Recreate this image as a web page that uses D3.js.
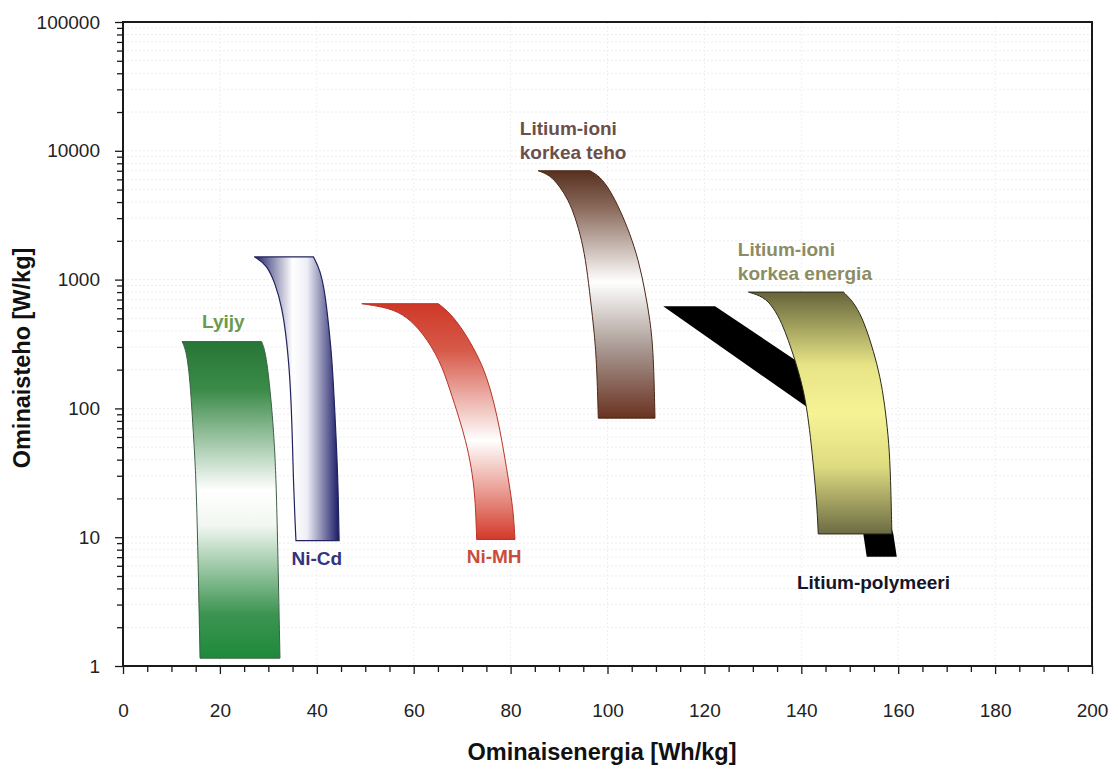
<!DOCTYPE html>
<html>
<head>
<meta charset="utf-8">
<script src="https://cdn.jsdelivr.net/npm/d3@7"></script>
<style>
  html, body { margin: 0; padding: 0; background: #fff; }
  svg { display: block; font-family: "Liberation Sans", Arial, sans-serif; }
</style>
</head>
<body>
<svg id="chart" width="1118" height="771"></svg>
<script>
// Ragone chart: specific energy (Wh/kg) vs specific power (W/kg, log scale)

// Axis ticks
const xMajorTicks = [0, 20, 40, 60, 80, 100, 120, 140, 160, 180, 200];
const yMajorTicks = [1, 10, 100, 1000, 10000, 100000];

// Band outlines as [energy Wh/kg, power W/kg], each edge listed from top to bottom
const lyijyLeft  = [[12.2, 330], [13.0, 284], [13.7, 188], [14.2, 102], [14.6, 57], [15.2, 24.5], [15.9, 1.15]];
const lyijyRight = [[28.6, 330], [29.3, 284], [30.0, 188], [30.7, 102], [31.2, 57], [31.7, 24.5], [32.4, 1.15]];

const niCdLeft  = [[27.2, 1500], [29.7, 1300], [31.4, 936], [32.8, 616], [33.8, 340], [34.5, 166], [34.9, 72], [35.2, 25], [35.5, 13.6], [35.7, 9.4]];
const niCdRight = [[39.3, 1500], [40.7, 1188], [41.7, 783], [42.4, 458], [43.1, 252], [43.6, 116], [44.0, 57], [44.4, 25], [44.6, 9.4]];

const niMhLeft  = [[49.3, 650], [55.1, 602], [58.6, 515], [61.9, 385], [65.4, 238], [67.5, 139], [69.3, 86], [70.7, 57], [71.9, 35.3], [72.7, 20.6], [73.0, 9.6]];
const niMhRight = [[65.1, 650], [67.5, 551], [70.2, 406], [73.0, 268], [75.1, 176], [76.6, 110], [77.8, 68], [78.9, 39.7], [79.9, 23.3], [80.6, 15.3], [80.9, 9.6]];

const liPowerLeft  = [[85.7, 7000], [88.1, 6486], [90.2, 5264], [91.9, 4150], [93.3, 3078], [94.7, 2030], [95.7, 1259], [96.5, 695], [97.3, 383], [97.8, 211], [98.1, 84]];
const liPowerRight = [[96.4, 7000], [98.5, 6295], [100.5, 4963], [102.6, 3470], [104.6, 2288], [106.4, 1420], [107.7, 830], [108.8, 486], [109.5, 268], [109.8, 84]];

const liEnergyLeft  = [[129.1, 800], [132.2, 737], [134.2, 612], [136.0, 458], [137.3, 340], [138.7, 238], [140.1, 157], [141.1, 103], [141.9, 60], [142.6, 33], [143.2, 18.3], [143.5, 10.6]];
const liEnergyRight = [[148.7, 800], [150.7, 674], [152.5, 515], [154.2, 340], [155.6, 224], [156.8, 139], [157.6, 81], [158.2, 47.5], [158.5, 23.3], [158.7, 10.6]];

// Lithium polymer: straight-edged polygon, partly hidden behind the high-energy band
const liPolymer = [[111.5, 620], [122.2, 620], [141.8, 199], [152.1, 68], [159.0, 10.6], [159.7, 7.06], [153.5, 7.06], [152.8, 10.6], [146.9, 39.7], [141.1, 103]];

// Label texts and their anchors in data units
const labelNames = ["Lyijy", "Ni-Cd", "Ni-MH", ["Litium-ioni", "korkea teho"], ["Litium-ioni", "korkea energia"], "Litium-polymeeri"];
const labelAnchors = [[20.7, 421], [40.0, 6.08], [76.6, 6.31], [81.9, 13270], [126.9, 1525], [139.1, 3.96]];

const svg = d3.select("#chart");
const margin = { left: 123, right: 1092, top: 22, bottom: 666 };

const x = d3.scaleLinear().domain([0, 200]).range([margin.left, margin.right]);
const y = d3.scaleLog().domain([1, 100000]).range([margin.bottom, margin.top]);

const xMinorTicks = d3.range(0, 201, 5).filter(v => v % 20 !== 0);
const yAllTicks = [];
for (let e = 0; e < 5; e++) for (let m = 1; m < 10; m++) yAllTicks.push(m * Math.pow(10, e));
const yMinorTicks = yAllTicks.filter(v => !yMajorTicks.includes(v));

// faint grid
const grid = svg.append("g").attr("stroke", "#eeeeee").attr("stroke-width", 1).attr("stroke-dasharray", "2,2");
grid.selectAll("line.gx").data(xMajorTicks.slice(1, -1)).join("line")
  .attr("x1", d => x(d)).attr("x2", d => x(d)).attr("y1", margin.top).attr("y2", margin.bottom);
grid.selectAll("line.gy").data(yAllTicks.slice(1)).join("line")
  .attr("y1", d => y(d)).attr("y2", d => y(d)).attr("x1", margin.left).attr("x2", margin.right);

// gradients
const defs = svg.append("defs");
function gradient(id, stops, horizontal) {
  const g = defs.append("linearGradient").attr("id", id)
    .attr("x1", 0).attr("y1", 0).attr("x2", horizontal ? 1 : 0).attr("y2", horizontal ? 0 : 1);
  stops.forEach(([o, c]) => g.append("stop").attr("offset", o).attr("stop-color", c));
}
gradient("gLyijy", [[0, "#277636"], [0.15, "#3a8a48"], [0.47, "#ffffff"], [0.58, "#f2f7f2"], [0.86, "#3c9451"], [1, "#1e8a3a"]]);
gradient("gNiCd", [[0, "#22226a"], [0.45, "#ffffff"], [0.62, "#eeeef6"], [1, "#1a1a66"]], true);
gradient("gNiMh", [[0, "#cf3826"], [0.2, "#d75a4a"], [0.58, "#ffffff"], [0.8, "#e99a90"], [1, "#d3392a"]]);
gradient("gLiPower", [[0, "#58301f"], [0.15, "#8a6a5c"], [0.45, "#ffffff"], [0.72, "#a89892"], [1, "#6a3220"]]);
gradient("gLiEnergy", [[0, "#66643a"], [0.3, "#e6e486"], [0.5, "#f5f394"], [0.72, "#dedc80"], [1, "#6c6b44"]]);

const edge = d3.line().x(d => x(d[0])).y(d => y(d[1])).curve(d3.curveBasis);
const poly = d3.line().x(d => x(d[0])).y(d => y(d[1]));

// outline: top edge, right edge down, bottom edge, left edge up
function bandPath(left, right) {
  const r = edge(right).replace(/^M/, "L");
  const l = edge(left.slice().reverse()).replace(/^M/, "L");
  return "M" + x(left[0][0]) + "," + y(left[0][1]) + r + l + "Z";
}

const bands = svg.append("g");
bands.append("path").attr("d", bandPath(lyijyLeft, lyijyRight))
  .attr("fill", "url(#gLyijy)").attr("stroke", "#3f5f48").attr("stroke-width", 1);
bands.append("path").attr("d", bandPath(niCdLeft, niCdRight))
  .attr("fill", "url(#gNiCd)").attr("stroke", "#22225e").attr("stroke-width", 1.2);
bands.append("path").attr("d", bandPath(niMhLeft, niMhRight))
  .attr("fill", "url(#gNiMh)").attr("stroke", "#b8342a").attr("stroke-width", 1);
bands.append("path").attr("d", bandPath(liPowerLeft, liPowerRight))
  .attr("fill", "url(#gLiPower)").attr("stroke", "#4a2818").attr("stroke-width", 1);
bands.append("path").attr("d", poly(liPolymer) + "Z").attr("fill", "#000");
bands.append("path").attr("d", bandPath(liEnergyLeft, liEnergyRight))
  .attr("fill", "url(#gLiEnergy)").attr("stroke", "#2a2a1a").attr("stroke-width", 1);

// axes
const axisColor = "#1a1a1a";
function styleAxis(g) {
  g.select(".domain").remove();
  g.selectAll("line").attr("stroke", axisColor).attr("stroke-width", 1.3);
  g.selectAll("text").attr("fill", "#222").style("font-size", "19px");
}
svg.append("g").attr("transform", `translate(0,${margin.bottom})`)
  .call(d3.axisBottom(x).tickValues(xMajorTicks).tickSize(8).tickPadding(30).tickFormat(d3.format("d")))
  .call(styleAxis);
svg.append("g").attr("transform", `translate(0,${margin.bottom})`)
  .call(d3.axisBottom(x).tickValues(xMinorTicks).tickSize(6).tickFormat(""))
  .call(styleAxis);
svg.append("g").attr("transform", `translate(${margin.left},0)`)
  .call(d3.axisLeft(y).tickValues(yMajorTicks).tickSize(8).tickPadding(15).tickFormat(d3.format("d")))
  .call(styleAxis);
svg.append("g").attr("transform", `translate(${margin.left},0)`)
  .call(d3.axisLeft(y).tickValues(yMinorTicks).tickSize(6).tickFormat(""))
  .call(styleAxis);

// plot frame
svg.append("rect").attr("x", margin.left).attr("y", margin.top)
  .attr("width", margin.right - margin.left).attr("height", margin.bottom - margin.top)
  .attr("fill", "none").attr("stroke", axisColor).attr("stroke-width", 2);

// axis titles
svg.append("text").attr("x", 602).attr("y", 760)
  .attr("text-anchor", "middle").attr("font-weight", "bold").attr("font-size", 23.5).attr("fill", "#111")
  .text("Ominaisenergia [Wh/kg]");
svg.append("text").attr("transform", "translate(30,358) rotate(-90)")
  .attr("text-anchor", "middle").attr("font-weight", "bold").attr("font-size", 23.5).attr("fill", "#111")
  .text("Ominaisteho [W/kg]");

// band labels
const labelColors = ["#6a9a4c", "#34347e", "#c84e3c", "#6b4f4a", "#8c8c64", "#15152a"];
const labelAlign = ["middle", "middle", "middle", "start", "start", "start"];
const labels = svg.append("g").attr("font-weight", "bold").attr("font-size", 19);
labelNames.forEach((name, i) => {
  const lines = Array.isArray(name) ? name : [name];
  const t = labels.append("text")
    .attr("x", x(labelAnchors[i][0])).attr("y", y(labelAnchors[i][1]))
    .attr("text-anchor", labelAlign[i]).attr("fill", labelColors[i]);
  lines.forEach((ln, j) => t.append("tspan").attr("x", x(labelAnchors[i][0])).attr("dy", j === 0 ? 0 : 24).text(ln));
});
</script>
</body>
</html>
